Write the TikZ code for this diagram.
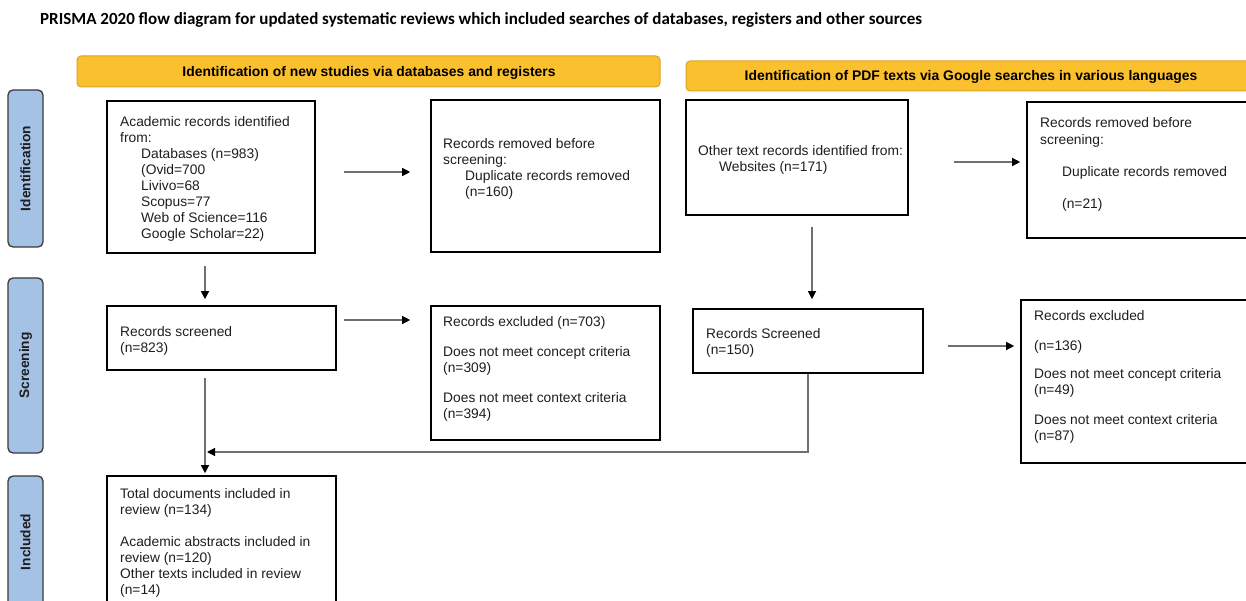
\documentclass[tikz,border=0pt]{standalone}
\usepackage{fontspec}
\setmainfont{Liberation Sans}
\newfontfamily\titlefont{Carlito}
\usetikzlibrary{arrows.meta}
\definecolor{hdrfill}{HTML}{FBC02D}
\definecolor{hdrline}{HTML}{D9A52A}
\definecolor{tabfill}{HTML}{A4C2E6}
\definecolor{tabline}{HTML}{3A3A3A}
\definecolor{txtc}{HTML}{1E1E1E}
\definecolor{arrc}{HTML}{707070}
\newcommand\firststrut{\rule{0pt}{11pt}}
\begin{document}
\begin{tikzpicture}[x=1pt,y=-1pt,
  box/.style={draw=black, line width=1.6pt, fill=white, inner sep=0pt},
  txt/.style={anchor=north west, inner sep=0pt, align=left, text=txtc,
              font=\fontsize{13.8}{16}\selectfont},
  arr/.style={draw=arrc, line width=1.2pt, -{Triangle[length=8pt,width=8pt,color=black]}},
  hdrst/.style={draw=hdrline, fill=hdrfill, line width=1pt, rounded corners=4pt,
                inner sep=0pt, text=black, font=\bfseries\fontsize{13.9}{16}\selectfont},
  tabst/.style={draw=tabline, fill=tabfill, line width=1.3pt, rounded corners=5pt, inner sep=0pt},
  tablabel/.style={rotate=90, inner sep=0pt, text=txtc, font=\bfseries\fontsize{13.7}{16}\selectfont}
]
\useasboundingbox (0,0) rectangle (1246,601);
\clip (0,0) rectangle (1246,601);
\fill[white] (0,0) rectangle (1246,601);

% title
\node[anchor=base west, inner sep=0pt, text=black, font=\titlefont\bfseries\fontsize{17}{20}\selectfont] (title) at (40,25)
  {PRISMA 2020 flow diagram for updated systematic reviews which included searches of databases, registers and other sources};

% headers
\node[hdrst, minimum width=583pt, minimum height=31pt] (h1) at (368.5,71.5) {};
\node[anchor=base, inner sep=0pt, font=\bfseries\fontsize{13.9}{16}\selectfont] (h1t) at (369,77) {Identification of new studies via databases and registers};
\node[hdrst, minimum width=570pt, minimum height=30pt] (h2) at (971,76) {};
\node[anchor=base, inner sep=0pt, font=\bfseries\fontsize{13.9}{16}\selectfont] (h2t) at (971,81) {Identification of PDF texts via Google searches in various languages};

% side tabs
\node[tabst, minimum width=35pt, minimum height=157pt] (tab1) at (25.5,168.5) {};
\node[tablabel] (tl1) at (tab1.center) {Identification};
\node[tabst, minimum width=35pt, minimum height=175pt] (tab2) at (25.5,365.5) {};
\node[tablabel] (tl2) at (tab2.center) {Screening};
\node[tabst, minimum width=35pt, minimum height=132pt] (tab3) at (25.5,542) {};
\node[tablabel] (tl3) at (tab3.center) {Included};

% boxes
\node[box, minimum width=208pt, minimum height=152pt] (A) at (211,177) {};
\node[box, minimum width=229pt, minimum height=152pt] (B) at (545.5,176) {};
\node[box, minimum width=222pt, minimum height=115pt] (C) at (797,157.5) {};
\node[box, minimum width=233pt, minimum height=136pt] (D) at (1143.5,170) {};
\node[box, minimum width=229pt, minimum height=64pt] (E) at (221.5,338) {};
\node[box, minimum width=229pt, minimum height=134pt] (F) at (545.5,373) {};
\node[box, minimum width=230pt, minimum height=64pt] (G) at (808,341) {};
\node[box, minimum width=239pt, minimum height=163pt] (H) at (1140.5,381.5) {};
\node[box, minimum width=229pt, minimum height=144pt] (I) at (221.5,548) {};

% texts
\node[txt] (tA) at (120,115.5) {\firststrut Academic records identified\\ from:\\
  \hspace*{21pt}Databases (n=983)\\ \hspace*{21pt}(Ovid=700\\ \hspace*{21pt}Livivo=68\\
  \hspace*{21pt}Scopus=77\\ \hspace*{21pt}Web of Science=116\\ \hspace*{21pt}Google Scholar=22)};
\node[txt] (tB) at (443,137) {\firststrut Records removed before\\ screening:\\
  \hspace*{22pt}Duplicate records removed\\ \hspace*{22pt}(n=160)};
\node[txt] (tC) at (698,144) {\firststrut Other text records identified from:\\ \hspace*{21pt}Websites (n=171)};
\node[txt] (tD) at (1040,116) {\firststrut Records removed before\\[1pt] screening:\\[16pt]
  \hspace*{22pt}Duplicate records removed\\[16pt] \hspace*{22pt}(n=21)};
\node[txt] (tE) at (120,325) {\firststrut Records screened\\ (n=823)};
\node[txt] (tF) at (443,315) {\firststrut Records excluded (n=703)\\[14pt] Does not meet concept criteria\\ (n=309)\\[14pt]
  Does not meet context criteria\\ (n=394)};
\node[txt] (tG) at (706,327) {\firststrut Records Screened\\ (n=150)};
\node[txt] (tH) at (1034,309) {\firststrut Records excluded\\[14pt] (n=136)\\[12pt] Does not meet concept criteria\\ (n=49)\\[14pt]
  Does not meet context criteria\\ (n=87)};
\node[txt] (tI) at (120,487) {\firststrut Total documents included in\\ review (n=134)\\[16pt] Academic abstracts included in\\
  review (n=120)\\ Other texts included in review\\ (n=14)};

% connectors
\draw[arr] ([xshift=28pt,yshift=5pt]A.east) -- ([xshift=-20pt,yshift=4pt]B.west);
\draw[arr] ([xshift=45pt,yshift=-4.5pt]C.east) -- ([xshift=-6pt,yshift=8pt]D.west);
\draw[arr] ([xshift=-6pt,yshift=-12pt]A.south) -- ([xshift=-16.5pt,yshift=6pt]E.north);
\draw[arr] ([xshift=15pt,yshift=-11pt]C.south) -- ([xshift=4pt,yshift=9pt]G.north);
\draw[arr] ([xshift=7pt,yshift=18pt]E.east) -- ([xshift=-20pt,yshift=53pt]F.west);
\draw[arr] ([xshift=24pt,yshift=-5pt]G.east) -- ([xshift=-6pt,yshift=35.5pt]H.west);
\draw[arr] ([xshift=-16.5pt,yshift=-7pt]E.south) -- ([xshift=-16.5pt,yshift=2pt]I.north);
\coordinate (merge) at (207,452);
\draw[arr] (G.south) |- (merge);
\end{tikzpicture}
\end{document}
